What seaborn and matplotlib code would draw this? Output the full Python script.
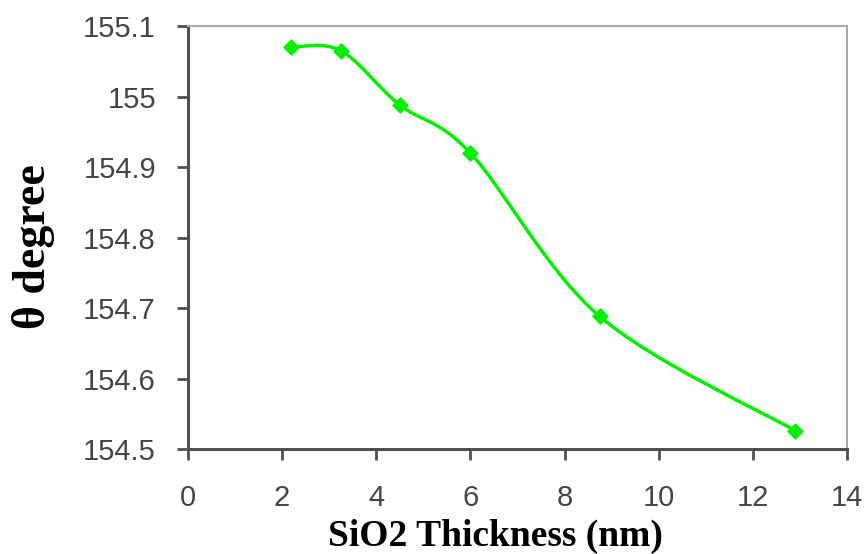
import numpy as np
import pandas as pd
import matplotlib
matplotlib.use("Agg")
import matplotlib.pyplot as plt
from matplotlib.path import Path
from matplotlib.patches import PathPatch
import seaborn as sns

# dati
thickness = [2.2, 3.25, 4.5, 6.0, 8.75, 12.9]
theta = [155.07, 155.065, 154.988, 154.92, 154.688, 154.526]
x_ticks = [0, 2, 4, 6, 8, 10, 12, 14]
y_ticks = [154.5, 154.6, 154.7, 154.8, 154.9, 155.0, 155.1]
y_ticklabels = ["154.5", "154.6", "154.7", "154.8", "154.9", "155", "155.1"]

green = "#00f000"

sns.set_theme(style="white")
plt.rcParams['font.family'] = ['Liberation Sans', 'DejaVu Sans']

fig = plt.figure(figsize=(8.66, 5.54), dpi=100)
ax = fig.add_axes([0.217, 0.1895, 0.761, 0.7635])

df = pd.DataFrame({"x": thickness, "y": theta})

# curva smussata tipo Excel (Bezier Catmull-Rom)
pts = np.column_stack([df["x"], df["y"]])
verts = [pts[0]]
codes = [Path.MOVETO]
n = len(pts)
for i in range(n - 1):
    p_prev = pts[max(i - 1, 0)]
    p0 = pts[i]
    p1 = pts[i + 1]
    p_next = pts[min(i + 2, n - 1)]
    c1 = p0 + (p1 - p_prev) / 6
    c2 = p1 - (p_next - p0) / 6
    verts += [c1, c2, p1]
    codes += [Path.CURVE4] * 3
ax.add_patch(PathPatch(Path(verts, codes), facecolor="none", edgecolor=green,
                       lw=2.5, zorder=2))

sns.scatterplot(data=df, x="x", y="y", marker="D", s=75, color=green,
                edgecolor=green, linewidth=0, ax=ax, zorder=3)

ax.set_xlim(0, 14)
ax.set_ylim(154.5, 155.1)
ax.set_xticks(x_ticks)
ax.set_yticks(y_ticks)
ax.set_yticklabels(y_ticklabels)

for side in ["left", "bottom"]:
    ax.spines[side].set_color("#505050")
    ax.spines[side].set_linewidth(2.2)
for side in ["top", "right"]:
    ax.spines[side].set_color("#a8a8a8")
    ax.spines[side].set_linewidth(1.5)
    ax.spines[side].set_visible(True)

ax.tick_params(axis="both", direction="out", length=8, width=2, color="#505050",
               labelsize=21, labelcolor="#454545", bottom=True, left=True)
ax.tick_params(axis="y", pad=15)
ax.tick_params(axis="x", pad=17)

ax.set_xlabel("SiO2 Thickness (nm)", family="Liberation Serif", fontweight="bold",
              fontsize=27, color="black", va="center")
ax.xaxis.set_label_coords(0.467, -0.2057)
ax.set_ylabel("θ degree", family="Liberation Serif", fontweight="bold",
              fontsize=33, color="black", va="center")
ax.yaxis.set_label_coords(-0.235, 0.479)

fig.savefig("out.png", dpi=100, facecolor="white")
